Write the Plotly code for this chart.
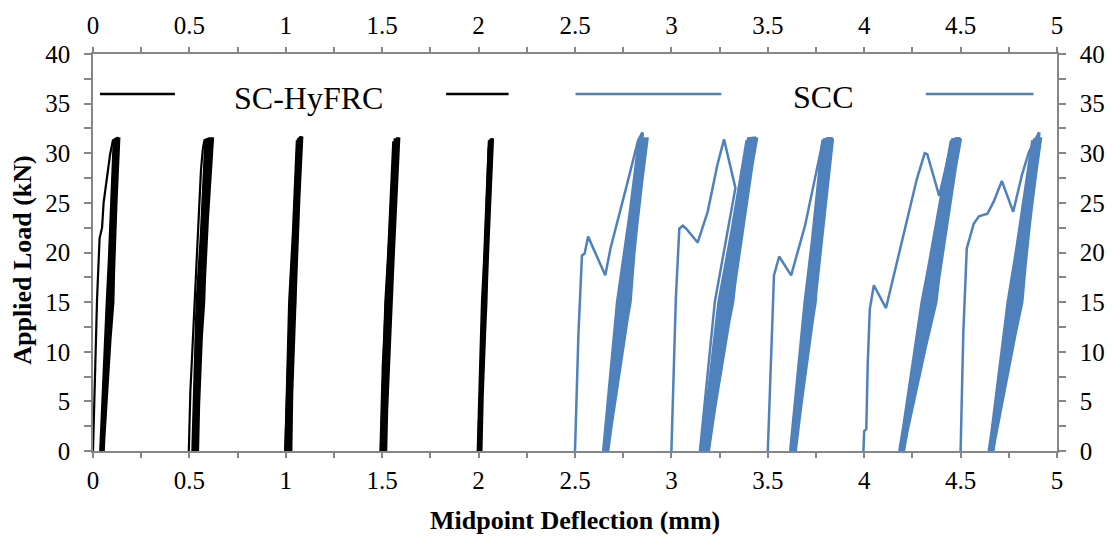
import plotly.graph_objects as go

BLACK = "#000000"
BLUE = "#4F81BD"
GRAY = "#868686"
FONT = "Liberation Serif"

# ---------------- SC-HyFRC specimens (black) ----------------
hy1_init_x = [0.000, 0.003, 0.010, 0.021, 0.034, 0.047, 0.055, 0.069, 0.088, 0.103, 0.129]
hy1_init_y = [0.0, 2.5, 8.0, 15.3, 21.4, 22.5, 25.0, 27.3, 29.8, 31.3, 31.6]
hy1_cyc_x = [0.100, 0.052, 0.076, 0.110, 0.094, 0.040, 0.074, 0.116, 0.099, 0.048, 0.082, 0.122,
             0.103, 0.043, 0.086, 0.127, 0.090, 0.053, 0.090, 0.131, 0.101, 0.046, 0.080, 0.134,
             0.096, 0.050, 0.088, 0.120, 0.098, 0.044]
hy1_cyc_y = [15, 0, 15, 31.2, 15, 0, 15, 31.4, 15, 0, 15, 31.5,
             15, 0, 15, 31.6, 15, 0, 15, 31.6, 15, 0, 15, 31.6,
             15, 0, 15, 31.5, 15, 0]

hy2_init_x = [0.497, 0.500, 0.505, 0.515, 0.526, 0.536, 0.543, 0.552, 0.560, 0.570, 0.578, 0.603]
hy2_init_y = [0.0, 3.0, 6.0, 10.0, 14.6, 19.0, 22.7, 26.0, 28.3, 30.5, 31.3, 31.5]
hy2_cyc_x = [0.570, 0.538, 0.545, 0.586, 0.562, 0.518, 0.540, 0.594, 0.568, 0.530, 0.550, 0.602,
             0.574, 0.522, 0.555, 0.608, 0.558, 0.542, 0.560, 0.614, 0.572, 0.526, 0.548, 0.620,
             0.566, 0.535, 0.558, 0.611, 0.570, 0.532]
hy2_cyc_y = [15, 0, 15, 31.4, 15, 0, 15, 31.5, 15, 0, 15, 31.5,
             15, 0, 15, 31.6, 15, 0, 15, 31.6, 15, 0, 15, 31.6,
             15, 0, 15, 31.5, 15, 0]

hy3_init_x = [0.997, 1.003, 1.009, 1.020, 1.034, 1.045, 1.052, 1.058, 1.066, 1.078]
hy3_init_y = [0.0, 4.0, 8.6, 13.5, 18.7, 24.0, 28.0, 30.3, 31.2, 31.7]
hy3_cyc_x = [1.046, 1.020, 1.024, 1.060, 1.040, 1.000, 1.020, 1.066, 1.045, 1.014, 1.030, 1.072,
             1.048, 1.006, 1.034, 1.076, 1.036, 1.026, 1.038, 1.080, 1.047, 1.010, 1.028, 1.083,
             1.042, 1.018]
hy3_cyc_y = [15, 0, 15, 31.3, 15, 0, 15, 31.5, 15, 0, 15, 31.6,
             15, 0, 15, 31.6, 15, 0, 15, 31.7, 15, 0, 15, 31.7,
             15, 0]

hy4_init_x = [1.491, 1.496, 1.503, 1.518, 1.534, 1.546, 1.556, 1.566, 1.583]
hy4_init_y = [0.0, 4.0, 8.6, 14.5, 20.4, 25.0, 28.5, 30.8, 31.5]
hy4_cyc_x = [1.545, 1.514, 1.522, 1.560, 1.538, 1.496, 1.519, 1.568, 1.544, 1.508, 1.528, 1.574,
             1.547, 1.500, 1.532, 1.580, 1.536, 1.518, 1.536, 1.586, 1.546, 1.504, 1.526, 1.578,
             1.542, 1.511]
hy4_cyc_y = [15, 0, 15, 31.2, 15, 0, 15, 31.5, 15, 0, 15, 31.5,
             15, 0, 15, 31.6, 15, 0, 15, 31.6, 15, 0, 15, 31.5,
             15, 0]

hy5_init_x = [1.997, 2.012, 2.030, 2.052, 2.069]
hy5_init_y = [0.0, 8.0, 18.0, 30.5, 31.5]
hy5_cyc_x = [2.036, 2.008, 2.022, 2.056, 2.032, 1.998, 2.020, 2.062, 2.038, 2.004, 2.026, 2.068,
             2.030, 2.012, 2.030, 2.072, 2.035, 2.002]
hy5_cyc_y = [15, 0, 15, 31.3, 15, 0, 15, 31.4, 15, 0, 15, 31.5,
             15, 0, 15, 31.5, 15, 0]

# ---------------- SCC specimens (blue) ----------------
scc1_init_x = [2.500, 2.518, 2.536, 2.550, 2.568, 2.657, 2.684, 2.738, 2.782, 2.827, 2.850]
scc1_init_y = [0.0, 11.9, 19.7, 19.9, 21.6, 17.7, 20.4, 24.4, 27.8, 31.3, 32.1]
scc1_cyc_x = [2.784, 2.668, 2.728, 2.832, 2.770, 2.648, 2.720, 2.840, 2.778, 2.660, 2.735, 2.852,
              2.786, 2.652, 2.745, 2.860, 2.762, 2.664, 2.752, 2.866, 2.780, 2.656, 2.740, 2.872,
              2.775, 2.670, 2.758, 2.875, 2.768, 2.650, 2.732, 2.846, 2.782, 2.662]
scc1_cyc_y = [15, 0, 15, 31.2, 15, 0, 15, 31.4, 15, 0, 15, 31.5,
              15, 0, 15, 31.6, 15, 0, 15, 31.4, 15, 0, 15, 31.5,
              15, 0, 15, 31.6, 15, 0, 15, 31.5, 15, 0]

scc2_init_x = [3.000, 3.023, 3.041, 3.059, 3.077, 3.136, 3.188, 3.238, 3.273, 3.332, 3.225, 3.148, 3.262, 3.398, 3.439]
scc2_init_y = [0.0, 15.3, 22.4, 22.7, 22.4, 21.0, 24.1, 28.8, 31.4, 26.5, 15.0, 0.0, 15.0, 31.5, 31.6]
scc2_cyc_x = [3.315, 3.188, 3.252, 3.392, 3.300, 3.158, 3.246, 3.402, 3.310, 3.176, 3.262, 3.414,
              3.318, 3.165, 3.275, 3.424, 3.290, 3.184, 3.282, 3.432, 3.312, 3.170, 3.268, 3.438,
              3.305, 3.192, 3.288, 3.443, 3.296, 3.160, 3.258, 3.408, 3.314, 3.180]
scc2_cyc_y = [15, 0, 15, 31.3, 15, 0, 15, 31.5, 15, 0, 15, 31.5,
              15, 0, 15, 31.6, 15, 0, 15, 31.5, 15, 0, 15, 31.6,
              15, 0, 15, 31.6, 15, 0, 15, 31.5, 15, 0]

scc3_init_x = [3.500, 3.514, 3.532, 3.559, 3.621, 3.693, 3.746, 3.786, 3.809, 3.836]
scc3_init_y = [0.0, 8.6, 17.7, 19.6, 17.7, 22.7, 27.8, 31.3, 31.5, 31.5]
scc3_cyc_x = [3.744, 3.640, 3.698, 3.785, 3.732, 3.618, 3.693, 3.795, 3.740, 3.632, 3.708, 3.806,
              3.746, 3.624, 3.716, 3.815, 3.724, 3.638, 3.722, 3.824, 3.742, 3.628, 3.712, 3.830,
              3.736, 3.643, 3.726, 3.836, 3.730, 3.620, 3.704, 3.800, 3.745, 3.635]
scc3_cyc_y = [15, 0, 15, 31.3, 15, 0, 15, 31.5, 15, 0, 15, 31.5,
              15, 0, 15, 31.6, 15, 0, 15, 31.5, 15, 0, 15, 31.6,
              15, 0, 15, 31.5, 15, 0, 15, 31.4, 15, 0]

scc4_init_x = [3.996, 4.000, 4.011, 4.018, 4.029, 4.050, 4.113, 4.157, 4.211, 4.273, 4.314, 4.327, 4.389, 4.457, 4.496]
scc4_init_y = [0.0, 2.0, 2.2, 8.6, 14.3, 16.7, 14.4, 18.0, 22.4, 27.4, 30.0, 29.9, 25.7, 31.4, 31.5]
scc4_cyc_x = [4.368, 4.200, 4.302, 4.452, 4.352, 4.186, 4.300, 4.462, 4.362, 4.196, 4.315, 4.472,
              4.372, 4.190, 4.328, 4.480, 4.342, 4.204, 4.336, 4.488, 4.365, 4.192, 4.322, 4.494,
              4.356, 4.202, 4.340, 4.500, 4.348, 4.184, 4.310, 4.466, 4.370, 4.195]
scc4_cyc_y = [15, 0, 15, 31.3, 15, 0, 15, 31.5, 15, 0, 15, 31.5,
              15, 0, 15, 31.6, 15, 0, 15, 31.5, 15, 0, 15, 31.6,
              15, 0, 15, 31.5, 15, 0, 15, 31.4, 15, 0]

scc5_init_x = [4.500, 4.514, 4.532, 4.546, 4.568, 4.595, 4.639, 4.671, 4.714, 4.773, 4.818, 4.854, 4.889, 4.907]
scc5_init_y = [0.0, 11.9, 20.4, 21.4, 22.9, 23.65, 23.9, 25.1, 27.2, 24.1, 27.8, 30.1, 31.5, 32.1]
scc5_cyc_x = [4.815, 4.666, 4.750, 4.874, 4.800, 4.650, 4.746, 4.884, 4.810, 4.660, 4.762, 4.894,
              4.818, 4.654, 4.774, 4.902, 4.790, 4.668, 4.782, 4.908, 4.812, 4.656, 4.768, 4.913,
              4.805, 4.664, 4.786, 4.916, 4.796, 4.648, 4.758, 4.890, 4.816, 4.658]
scc5_cyc_y = [15, 0, 15, 31.3, 15, 0, 15, 31.5, 15, 0, 15, 31.6,
              15, 0, 15, 31.5, 15, 0, 15, 31.6, 15, 0, 15, 31.5,
              15, 0, 15, 31.6, 15, 0, 15, 31.4, 15, 0]

x_ticks = [0, 0.5, 1, 1.5, 2, 2.5, 3, 3.5, 4, 4.5, 5]
y_ticks = [0, 5, 10, 15, 20, 25, 30, 35, 40]
legend_names = ["SC-HyFRC", "SCC"]

hy = [(hy1_init_x, hy1_init_y, hy1_cyc_x, hy1_cyc_y),
      (hy2_init_x, hy2_init_y, hy2_cyc_x, hy2_cyc_y),
      (hy3_init_x, hy3_init_y, hy3_cyc_x, hy3_cyc_y),
      (hy4_init_x, hy4_init_y, hy4_cyc_x, hy4_cyc_y),
      (hy5_init_x, hy5_init_y, hy5_cyc_x, hy5_cyc_y)]
scc = [(scc1_init_x, scc1_init_y, scc1_cyc_x, scc1_cyc_y),
       (scc2_init_x, scc2_init_y, scc2_cyc_x, scc2_cyc_y),
       (scc3_init_x, scc3_init_y, scc3_cyc_x, scc3_cyc_y),
       (scc4_init_x, scc4_init_y, scc4_cyc_x, scc4_cyc_y),
       (scc5_init_x, scc5_init_y, scc5_cyc_x, scc5_cyc_y)]

fig = go.Figure()


def add_specimen(ix, iy, cx, cy, color, w_init, w_cyc, xa_init, xa_cyc, ya):
    fig.add_trace(go.Scatter(x=ix, y=iy, mode="lines", line=dict(color=color, width=w_init),
                             showlegend=False, hoverinfo="skip", xaxis=xa_init, yaxis=ya))
    fig.add_trace(go.Scatter(x=[ix[-1]] + cx, y=[iy[-1]] + cy, mode="lines",
                             line=dict(color=color, width=w_cyc),
                             showlegend=False, hoverinfo="skip", xaxis=xa_cyc, yaxis=ya))


for ix, iy, cx, cy in hy:
    add_specimen(ix, iy, cx, cy, BLACK, 2.2, 3.2, "x", "x3", "y")
for ix, iy, cx, cy in scc:
    add_specimen(ix, iy, cx, cy, BLUE, 2.5, 3.2, "x2", "x2", "y2")

tickfont = dict(family=FONT, size=25, color="black")
common = dict(showgrid=False, zeroline=False, showline=True, linecolor=GRAY, linewidth=1.5,
              ticks="outside", tickcolor=GRAY, tickwidth=1.5, tickfont=tickfont, automargin=False)
xcommon = dict(common, range=[0, 5], tickvals=x_ticks, ticklen=5,
               minor=dict(dtick=0.25, tick0=0, ticks="outside", ticklen=5, tickcolor=GRAY, tickwidth=1.5))
ycommon = dict(common, range=[0, 40], tickvals=y_ticks, ticklen=7,
               minor=dict(dtick=2.5, tick0=0, ticks="outside", ticklen=7, tickcolor=GRAY, tickwidth=1.5),
               ticklabelstandoff=9)

fig.update_layout(
    width=1112, height=536,
    margin=dict(l=93, r=55, t=54, b=85, autoexpand=False),
    paper_bgcolor="white", plot_bgcolor="white",
    showlegend=False,
    xaxis=dict(xcommon, side="bottom", anchor="y", ticklabelstandoff=1),
    # top axis: line + ticks only
    xaxis2=dict(xcommon, side="top", anchor="y", overlaying="x", matches="x", showticklabels=False),
    # top axis labels
    xaxis3=dict(showgrid=False, zeroline=False, showline=False, ticks="", tickvals=x_ticks,
                tickfont=tickfont, automargin=False, range=[0, 5], side="top", anchor="y",
                overlaying="x", matches="x", ticklabelstandoff=14),
    yaxis=dict(ycommon, side="left", anchor="x"),
    yaxis2=dict(ycommon, side="right", anchor="x", overlaying="y", matches="y"),
    font=dict(family=FONT, color="black"),
)

# axis titles
fig.add_annotation(text="<b>Midpoint Deflection (mm)</b>", xref="paper", yref="paper",
                   x=0.5, y=-0.174, xanchor="center", yanchor="middle", showarrow=False,
                   font=dict(family=FONT, size=26, color="black"))
fig.add_annotation(text="<b>Applied Load (kN)</b>", xref="paper", yref="paper",
                   x=-0.0725, y=0.482, xanchor="center", yanchor="middle", textangle=-90,
                   showarrow=False, font=dict(family=FONT, size=26, color="black"))

# legend (drawn inside plot area)
leg_y = 0.899
for x0, x1, col in [(0.0073, 0.085, BLACK), (0.3663, 0.4311, BLACK),
                    (0.5005, 0.6518, BLUE), (0.8639, 0.9756, BLUE)]:
    fig.add_shape(type="line", xref="paper", yref="paper", x0=x0, x1=x1, y0=leg_y, y1=leg_y,
                  line=dict(color=col, width=2.5))
fig.add_annotation(text=legend_names[0], xref="paper", yref="paper", x=0.2238, y=0.889,
                   xanchor="center", yanchor="middle", showarrow=False,
                   font=dict(family=FONT, size=32, color="black"))
fig.add_annotation(text=legend_names[1], xref="paper", yref="paper", x=0.757, y=0.892,
                   xanchor="center", yanchor="middle", showarrow=False,
                   font=dict(family=FONT, size=32, color="black"))

fig.write_html("out.html")
